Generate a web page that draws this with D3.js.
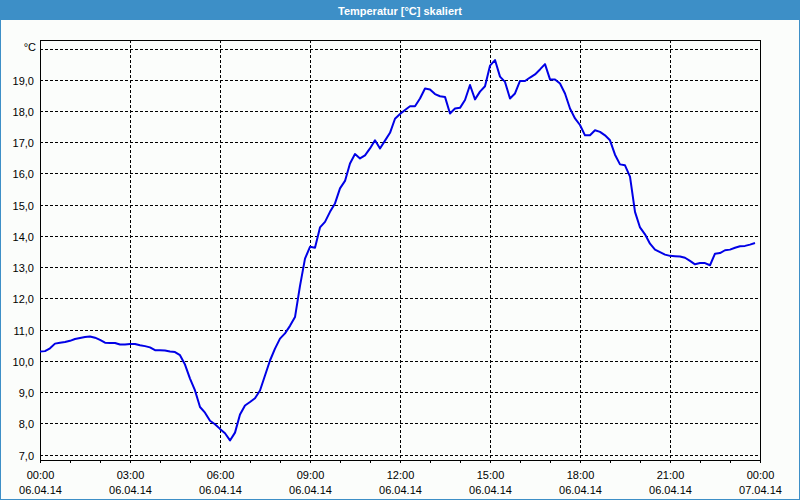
<!DOCTYPE html>
<html>
<head>
<meta charset="utf-8">
<script src="https://cdn.jsdelivr.net/npm/d3@7"></script>
<style>
  html, body { margin: 0; padding: 0; background: #fbfdfb; }
  svg { display: block; }
</style>
</head>
<body>
<svg id="chart" width="800" height="500"></svg>
<script>
const title = "Temperatur [°C] skaliert";
const day = "06.04.14";
const nextDay = "07.04.14";
const times = [
  "00:00","00:10","00:20","00:30","00:40","00:50","01:00","01:10","01:20","01:30","01:40","01:50",
  "02:00","02:10","02:20","02:30","02:40","02:50","03:00","03:10","03:20","03:30","03:40","03:50",
  "04:00","04:10","04:20","04:30","04:40","04:50","05:00","05:10","05:20","05:30","05:40","05:50",
  "06:00","06:10","06:20","06:30","06:40","06:50","07:00","07:10","07:20","07:30","07:40","07:50",
  "08:00","08:10","08:20","08:30","08:40","08:50","09:00","09:10","09:20","09:30","09:40","09:50",
  "10:00","10:10","10:20","10:30","10:40","10:50","11:00","11:10","11:20","11:30","11:40","11:50",
  "12:00","12:10","12:20","12:30","12:40","12:50","13:00","13:10","13:20","13:30","13:40","13:50",
  "14:00","14:10","14:20","14:30","14:40","14:50","15:00","15:10","15:20","15:30","15:40","15:50",
  "16:00","16:10","16:20","16:30","16:40","16:50","17:00","17:10","17:20","17:30","17:40","17:50",
  "18:00","18:10","18:20","18:30","18:40","18:50","19:00","19:10","19:20","19:30","19:40","19:50",
  "20:00","20:10","20:20","20:30","20:40","20:50","21:00","21:10","21:20","21:30","21:40","21:50",
  "22:00","22:10","22:20","22:30","22:40","22:50","23:00","23:10","23:20","23:30","23:40","23:50"
];
const temps = [
  10.30,10.31,10.40,10.55,10.58,10.60,10.64,10.70,10.73,10.76,10.78,10.74,
  10.67,10.58,10.57,10.57,10.52,10.52,10.54,10.54,10.50,10.47,10.43,10.34,
  10.34,10.33,10.30,10.28,10.18,9.88,9.43,9.05,8.52,8.34,8.08,7.97,
  7.82,7.68,7.45,7.70,8.28,8.57,8.68,8.80,9.05,9.53,10.01,10.39,
  10.71,10.88,11.12,11.40,12.40,13.27,13.65,13.62,14.27,14.45,14.77,15.04,
  15.52,15.76,16.32,16.62,16.48,16.58,16.80,17.06,16.80,17.05,17.30,17.75,
  17.90,18.03,18.15,18.15,18.40,18.72,18.69,18.54,18.47,18.45,17.92,18.08,
  18.10,18.35,18.83,18.37,18.62,18.79,19.45,19.63,19.10,18.93,18.40,18.56,
  18.96,18.96,19.07,19.17,19.33,19.50,19.01,19.01,18.88,18.56,18.08,17.76,
  17.55,17.22,17.22,17.38,17.33,17.22,17.06,16.60,16.29,16.26,15.90,14.77,
  14.27,14.05,13.75,13.56,13.48,13.40,13.36,13.35,13.34,13.30,13.20,13.09,
  13.13,13.13,13.06,13.43,13.45,13.54,13.56,13.62,13.67,13.68,13.72,13.77
];
const yTicks = [7,8,9,10,11,12,13,14,15,16,17,18,19,20];
const yUnitLabel = "°C";
const xLabelHours = ["00:00","03:00","06:00","09:00","12:00","15:00","18:00","21:00"];

const parse = d3.timeParse("%d.%m.%y %H:%M");
const data = times.map((t, i) => ({ t: parse(day + " " + t), v: temps[i] }));
const xTicks = xLabelHours.map(h => parse(day + " " + h)).concat([parse(nextDay + " 00:00")]);

const svg = d3.select("#chart");
const W = 800, H = 500;
const L = 40, R = 760, T = 40, B = 460;

// background + window border
svg.append("rect").attr("x", 0).attr("y", 0).attr("width", W).attr("height", H).attr("fill", "#fbfdfb");
svg.append("rect").attr("x", 0.5).attr("y", 0.5).attr("width", W - 1).attr("height", H - 1)
  .attr("fill", "none").attr("stroke", "#3d8fc7").attr("stroke-width", 1);
svg.append("rect").attr("x", 0).attr("y", 0).attr("width", W).attr("height", 20).attr("fill", "#3d8fc7");
svg.append("text").attr("x", W / 2).attr("y", 15).attr("text-anchor", "middle")
  .attr("font-family", "'Liberation Sans', Arial, sans-serif").attr("font-weight", "bold")
  .attr("font-size", 11).attr("fill", "#ffffff").text(title);

const x = d3.scaleTime().domain([xTicks[0], xTicks[xTicks.length - 1]]).range([L, R]);
const y = d3.scaleLinear().domain([7, 20]).range([454.5, 48.5]);

const g = svg.append("g").attr("shape-rendering", "crispEdges");

// horizontal dashed grid
g.selectAll("line.hg").data(yTicks).join("line").attr("class", "hg")
  .attr("x1", L).attr("x2", R)
  .attr("y1", d => Math.round(y(d)) + 0.5).attr("y2", d => Math.round(y(d)) + 0.5)
  .attr("stroke", "#000").attr("stroke-dasharray", "3,2");

// vertical dashed grid
g.selectAll("line.vg").data(xTicks.slice(1, -1)).join("line").attr("class", "vg")
  .attr("x1", d => Math.round(x(d)) + 0.5).attr("x2", d => Math.round(x(d)) + 0.5)
  .attr("y1", T).attr("y2", B)
  .attr("stroke", "#000").attr("stroke-dasharray", "3,2");

// bottom axis with hourly minor ticks
const xAxis = d3.axisBottom(x).ticks(d3.timeHour.every(1)).tickSize(3).tickSizeOuter(3).tickFormat("");
const ax = svg.append("g").attr("transform", `translate(0,${B})`).call(xAxis);
ax.select(".domain").attr("stroke", "#000").attr("shape-rendering", "crispEdges");
ax.selectAll(".tick line").attr("stroke", "#000").attr("shape-rendering", "crispEdges");

// frame
g.append("rect").attr("x", L + 0.5).attr("y", T + 0.5).attr("width", R - L).attr("height", B - T)
  .attr("fill", "none").attr("stroke", "#000");

// x labels (two lines)
const fmtTime = d3.timeFormat("%H:%M");
const fmtDate = d3.timeFormat("%d.%m.%y");
const xl = svg.append("g").attr("font-family", "'Liberation Sans', Arial, sans-serif")
  .attr("font-size", 11).attr("fill", "#000").attr("text-anchor", "middle");
xl.selectAll("text.t").data(xTicks).join("text").attr("class", "t")
  .attr("x", d => x(d) + 0.5).attr("y", 479).text(d => fmtTime(d));
xl.selectAll("text.d").data(xTicks).join("text").attr("class", "d")
  .attr("x", d => x(d) + 0.5).attr("y", 494).text(d => fmtDate(d));

// y labels
const yl = svg.append("g").attr("font-family", "'Liberation Sans', Arial, sans-serif")
  .attr("font-size", 11).attr("fill", "#000").attr("text-anchor", "end");
yl.selectAll("text").data(yTicks).join("text")
  .attr("x", d => d === 20 ? 36 : 34)
  .attr("y", d => Math.round(y(d)) + (d === 20 ? 2 : 5))
  .text(d => d === 20 ? yUnitLabel : d3.format(".1f")(d).replace(".", ","));

// temperature line
const line = d3.line().x(d => x(d.t)).y(d => y(d.v));
svg.append("path").datum(data).attr("d", line)
  .attr("fill", "none").attr("stroke", "#0000e6").attr("stroke-width", 2)
  .attr("stroke-linejoin", "round");
</script>
</body>
</html>
